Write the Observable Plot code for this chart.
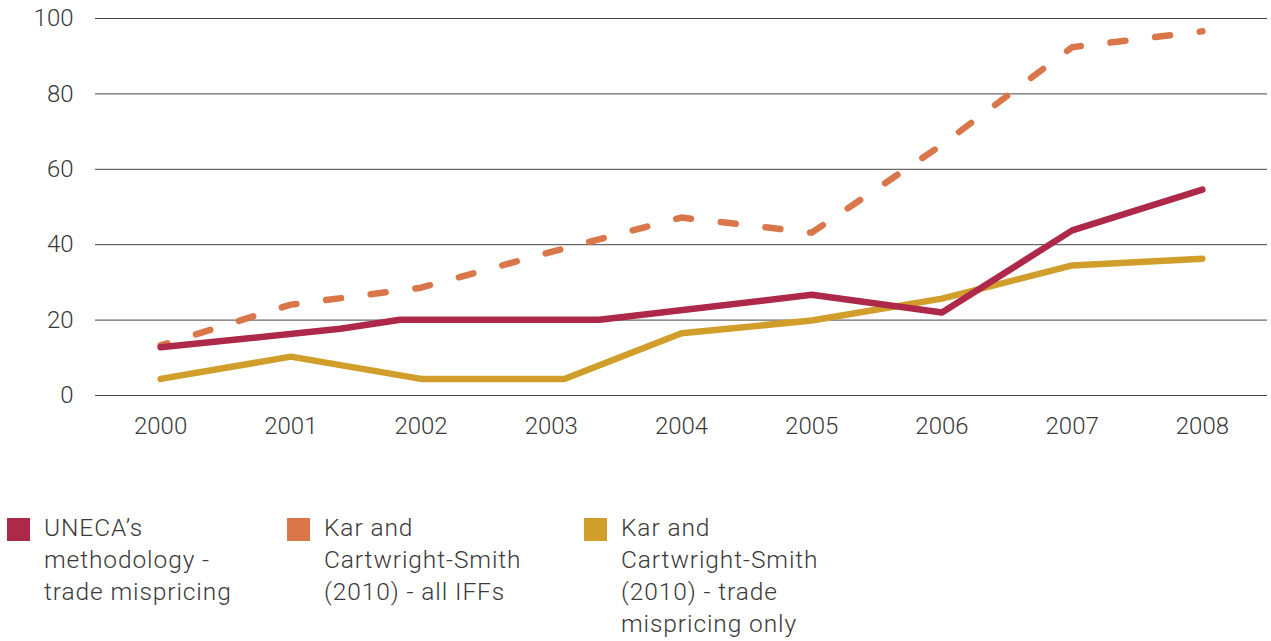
<!DOCTYPE html>
<html>
<head>
<meta charset="utf-8">
<script src="https://cdn.jsdelivr.net/npm/d3@7"></script>
<script src="https://cdn.jsdelivr.net/npm/@observablehq/plot@0.6"></script>
<style>
  body { margin: 0; background: #fff; font-family: Roboto, "Open Sans", sans-serif; color: #3a3a3a; }
  #chart svg { display: block; }
  .legend { position: relative; margin-top: 62px; height: 130px; }
  .item { position: absolute; top: 0; font-size: 24.5px; line-height: 32px; font-weight: 300; letter-spacing: 0.9px; }
  .swatch { position: absolute; left: 0; top: 6px; width: 23px; height: 23px; }
  .label { position: absolute; left: 37px; top: 0; white-space: nowrap; }
</style>
</head>
<body>
<div id="chart"></div>
<div class="legend" id="legend"></div>
<script>
// Tick labels
const xTicks = [2000, 2001, 2002, 2003, 2004, 2005, 2006, 2007, 2008];
const yTicks = [0, 20, 40, 60, 80, 100];

// Series names and colours
const seriesNames = [
  "UNECA’s methodology - trade mispricing",
  "Kar and Cartwright-Smith (2010) - all IFFs",
  "Kar and Cartwright-Smith (2010) - trade mispricing only"
];
const legendLines = [
  ["UNECA’s", "methodology -", "trade mispricing"],
  ["Kar and", "Cartwright-Smith", "(2010) - all IFFs"],
  ["Kar and", "Cartwright-Smith", "(2010) - trade", "mispricing only"]
];
const colors = ["#ad2849", "#da774a", "#d29e2b"];

// UNECA's methodology - trade mispricing
const unecaYears  = [2000, 2001.38, 2001.84, 2003.37, 2005, 2006, 2007, 2008];
const unecaValues = [12.8, 17.7, 20.1, 20.1, 26.7, 22.0, 43.8, 54.6];

// Kar and Cartwright-Smith (2010) - all IFFs
const allIffYears  = [2000, 2001, 2002, 2003, 2004, 2005, 2006, 2007, 2008];
const allIffValues = [13.3, 24.1, 28.6, 38.1, 47.2, 43.2, 66.5, 92.4, 96.6];

// Kar and Cartwright-Smith (2010) - trade mispricing only
const tradeYears  = [2000, 2001, 2002, 2003.1, 2004, 2005, 2006, 2007, 2008];
const tradeValues = [4.4, 10.3, 4.4, 4.4, 16.5, 19.9, 25.7, 34.5, 36.3];

const toRows = (xs, ys) => xs.map((x, i) => ({ year: x, value: ys[i] }));
const uneca = toRows(unecaYears, unecaValues);
const allIff = toRows(allIffYears, allIffValues);
const trade = toRows(tradeYears, tradeValues);

const lineOpts = { x: "year", y: "value", strokeWidth: 6.5, strokeLinecap: "round", strokeLinejoin: "round", curve: "linear" };

const chart = Plot.plot({
  width: 1271,
  height: 450,
  marginLeft: 95,
  marginRight: 4,
  marginTop: 18,
  marginBottom: 55,
  style: { fontSize: "24px", fontFamily: "Roboto, 'Open Sans', sans-serif", fontWeight: 300, color: "#3a3a3a", background: "#fff" },
  x: { type: "linear", domain: [1999.5, 2008.5] },
  y: { domain: [0, 100] },
  marks: [
    Plot.ruleY(yTicks, { stroke: "#444", strokeWidth: 1 }),
    Plot.axisY({ ticks: yTicks, tickSize: 0, tickPadding: 22, label: null, tickFormat: d => String(d) }),
    Plot.axisX({ ticks: xTicks, tickSize: 0, tickPadding: 21, label: null, tickFormat: d => String(d) }),
    Plot.line(trade, { ...lineOpts, stroke: colors[2] }),
    Plot.line(allIff, { ...lineOpts, stroke: colors[1], strokeDasharray: "15,30", strokeDashoffset: 8 }),
    Plot.line(uneca, { ...lineOpts, stroke: colors[0] })
  ]
});
document.getElementById("chart").appendChild(chart);

const lefts = [7, 287, 584];
const legend = document.getElementById("legend");
seriesNames.forEach((name, i) => {
  const item = document.createElement("div");
  item.className = "item";
  item.style.left = lefts[i] + "px";
  item.title = name;
  const sw = document.createElement("div");
  sw.className = "swatch";
  sw.style.background = colors[i];
  const lab = document.createElement("div");
  lab.className = "label";
  lab.innerHTML = legendLines[i].join("<br>");
  item.appendChild(sw);
  item.appendChild(lab);
  legend.appendChild(item);
});
</script>
</body>
</html>
